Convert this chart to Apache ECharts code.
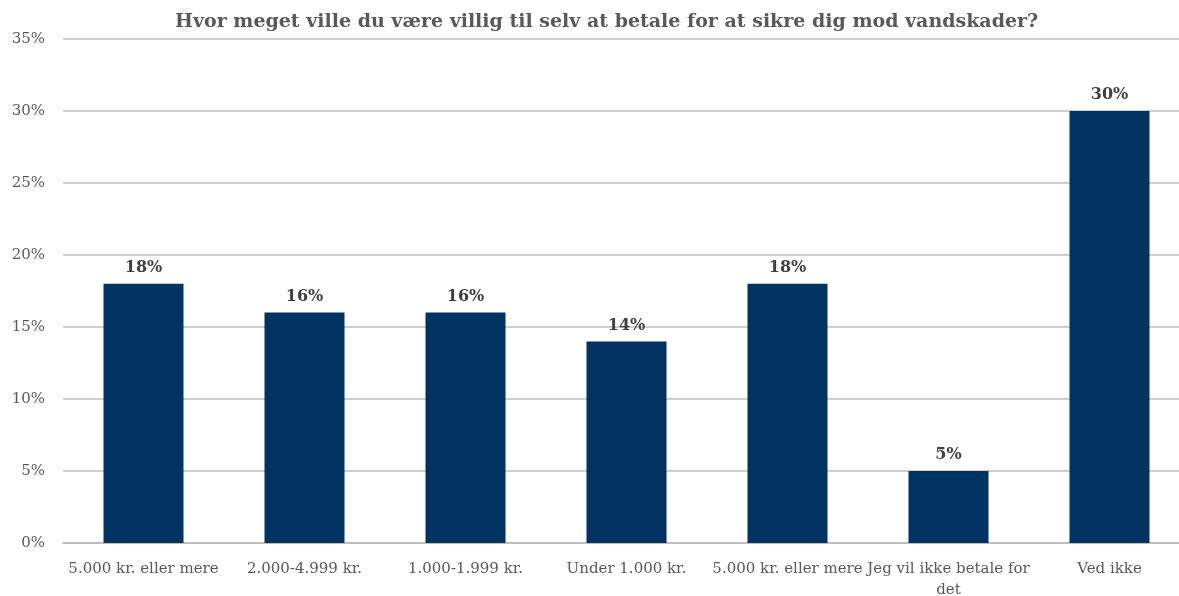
<!DOCTYPE html>
<html lang="da">
<head>
    <meta charset="UTF-8" />
    <title>Vandskader</title>
    <style>
        html, body { margin: 0; padding: 0; background: #fff; }
        #chart { width: 1179px; height: 596px; }
    </style>
</head>
<body>
    <div id="chart"></div>
    <script src="https://cdn.jsdelivr.net/npm/echarts@6/dist/echarts.min.js"></script>
    <script>
        // data
        const categories = [
            '5.000 kr. eller mere',
            '2.000-4.999 kr.',
            '1.000-1.999 kr.',
            'Under 1.000 kr.',
            '5.000 kr. eller mere',
            'Jeg vil ikke betale for\ndet',
            'Ved ikke'
        ]
        const shares = [18, 16, 16, 14, 18, 5, 30]
        const yTicks = [0, 5, 10, 15, 20, 25, 30, 35]

        const serif = '"DejaVu Serif", serif'

        const chart = echarts.init(document.getElementById('chart'))
        chart.setOption({
            animation: false,
            title: {
                text: 'Hvor meget ville du være villig til selv at betale for at sikre dig mod vandskader?',
                left: 170,
                top: 8,
                textStyle: { fontFamily: serif, fontSize: 19, fontWeight: 'bold', color: '#595959' }
            },
            grid: { left: 63, top: 39, width: 1127, height: 504, outerBoundsMode: 'none', containLabel: false },
            xAxis: {
                type: 'category',
                data: categories,
                axisLine: { lineStyle: { color: '#bfbfbf', width: 2 } },
                axisTick: { show: false },
                axisLabel: {
                    interval: 0,
                    margin: 16,
                    fontFamily: serif,
                    fontSize: 15,
                    color: '#595959',
                    lineHeight: 21
                }
            },
            yAxis: {
                type: 'value',
                min: yTicks[0],
                max: yTicks[yTicks.length - 1],
                interval: 5,
                axisLine: { show: false },
                axisTick: { show: false },
                axisLabel: {
                    margin: 18,
                    fontFamily: serif,
                    fontSize: 15,
                    color: '#595959',
                    formatter: v => v + '%'
                },
                splitLine: { lineStyle: { color: '#bfbfbf', width: 1.5 } }
            },
            series: [{
                type: 'bar',
                data: shares,
                barWidth: 80,
                itemStyle: { color: '#003361' },
                label: {
                    show: true,
                    position: 'top',
                    distance: 8,
                    fontFamily: serif,
                    fontSize: 16,
                    fontWeight: 'bold',
                    color: '#404040',
                    formatter: p => p.value + '%'
                }
            }]
        })
    </script>
</body>
</html>
